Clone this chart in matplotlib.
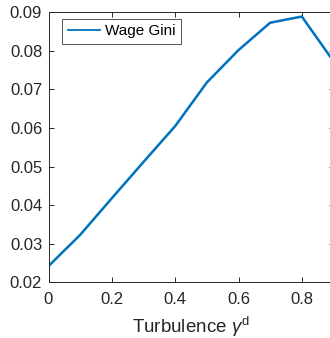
import numpy as np
import matplotlib
matplotlib.use("Agg")
from matplotlib import pyplot as plt

# Turbulence levels and resulting wage Gini
turbulence = [0.0, 0.1, 0.2, 0.3, 0.4, 0.5, 0.6, 0.7, 0.8, 0.9]
wage_gini = [0.0242, 0.0323, 0.0418, 0.0512, 0.0605, 0.0718, 0.0802, 0.0873, 0.0889, 0.0773]
x_ticks = [0, 0.2, 0.4, 0.6, 0.8]
y_ticks = [0.02, 0.03, 0.04, 0.05, 0.06, 0.07, 0.08, 0.09]

plt.rcParams['font.family'] = ['Liberation Sans', 'DejaVu Sans']
plt.rcParams['mathtext.fontset'] = 'custom'
plt.rcParams['mathtext.rm'] = 'Liberation Sans'
plt.rcParams['mathtext.it'] = 'Liberation Sans:italic'

fig = plt.figure(figsize=(3.3, 3.38), dpi=100)
# axes run slightly past the right edge of the figure
ax = fig.add_axes([48.5 / 330, 1 - 282.3 / 338, 285 / 330, 270 / 338])

ax.plot(turbulence, wage_gini, color='#0072BD', lw=1.8, label='Wage Gini')

ax.set_xlim(0, 0.9)
ax.set_ylim(0.02, 0.09)
ax.set_xticks(x_ticks)
ax.set_xticklabels(['0', '0.2', '0.4', '0.6', '0.8'])
ax.set_yticks(y_ticks)
ax.set_yticklabels(['%.2f' % v for v in y_ticks])
ax.tick_params(direction='in', top=True, right=True, length=3.5, width=0.7,
               color='#262626', labelsize=12, labelcolor='#262626')
ax.tick_params(axis='x', pad=7)
ax.tick_params(axis='y', pad=4.5)
for s in ax.spines.values():
    s.set_color('#262626')
    s.set_linewidth(0.7)

ax.set_xlabel(r'Turbulence $\gamma^{\mathrm{d}}$', fontsize=13.5, color='#262626', labelpad=6)

leg = ax.legend(loc='upper left', bbox_to_anchor=(0.048, 0.975), fontsize=11,
                frameon=True, fancybox=False, handlelength=2.1, handletextpad=0.35,
                borderpad=0.35, borderaxespad=0)
leg.get_frame().set_edgecolor('#262626')
leg.get_frame().set_linewidth(0.7)
for line in leg.get_lines():
    line.set_linewidth(1.3)

fig.savefig('out.png', dpi=100)
